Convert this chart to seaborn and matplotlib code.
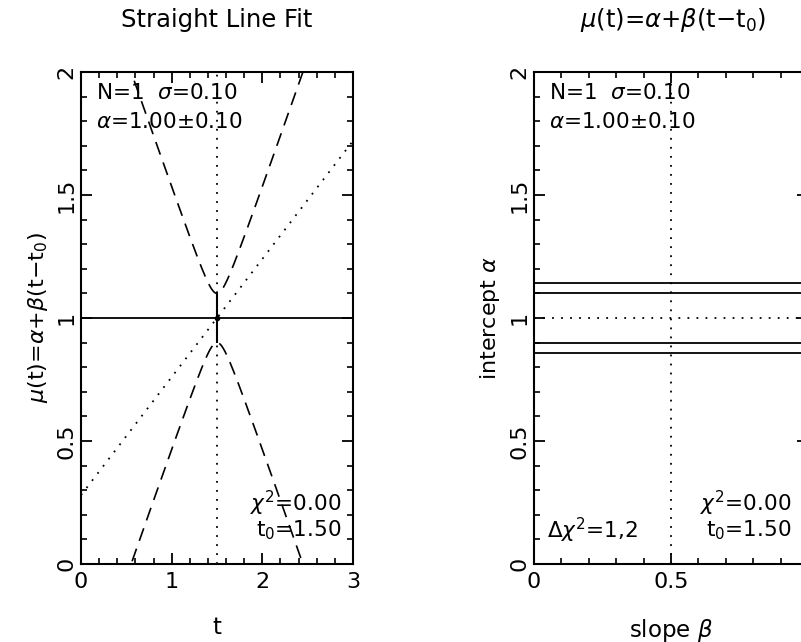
import numpy as np
import pandas as pd
import matplotlib
matplotlib.use("Agg")
import matplotlib.pyplot as plt
import seaborn as sns
from matplotlib.ticker import MultipleLocator

sns.set_style("ticks", {'text.color': 'black', 'xtick.color': 'black',
                        'ytick.color': 'black', 'axes.labelcolor': 'black'})
plt.rcParams['font.family'] = ['DejaVu Sans']
plt.rcParams['mathtext.fontset'] = 'dejavusans'

# 观测数据 (一个点)
t_obs = [1.5]
mu_obs = [1.0]
sig_obs = [0.1]

# 拟合结果
t0 = 1.5
alpha = 1.0
sig_alpha = 0.10
beta_band = 1.05      # 置信带的斜率
beta_dot = 0.48       # 虚点线的斜率
beta_mark = 0.5       # 右图竖直虚点线位置

# 右图 Δχ²=1,2 的等值线 (截距)
contour_levels = [0.859, 0.90, 1.10, 1.141]

W, H = 801, 642


def px(x, y):
    return x / W, 1 - y / H


# 置信带
t_grid = np.linspace(0, 3, 601)
band = np.sqrt(sig_alpha ** 2 + (beta_band * (t_grid - t0)) ** 2)
df_band = pd.DataFrame({'t': t_grid, 'up': alpha + band, 'lo': alpha - band,
                        'dot': alpha + beta_dot * (t_grid - t0)})

fig = plt.figure(figsize=(8.01, 6.42), dpi=100)
ax1 = fig.add_axes([81 / W, 78 / H, 272 / W, 492 / H])
ax2 = fig.add_axes([534 / W, 78 / H, 274 / W, 492 / H])

dots = (0, (1, 4))
dash = (0, (8, 5))

# 左图
sns.lineplot(data=df_band, x='t', y='up', ax=ax1, color='black', lw=1.2, linestyle=dash)
sns.lineplot(data=df_band, x='t', y='lo', ax=ax1, color='black', lw=1.2, linestyle=dash)
sns.lineplot(data=df_band, x='t', y='dot', ax=ax1, color='black', lw=1.3, linestyle=dots)
ax1.axhline(alpha, color='black', lw=1.3)
ax1.axvline(t0, color='black', lw=1.3, linestyle=dots)
ax1.errorbar(t_obs, mu_obs, yerr=sig_obs, fmt='o', color='black', ms=3, lw=1.5, capsize=0)
ax1.set_xlim(0, 3)
ax1.set_ylim(0, 2)
ax1.xaxis.set_major_locator(MultipleLocator(1))
ax1.xaxis.set_minor_locator(MultipleLocator(0.2))

# 右图
for lv in contour_levels:
    ax2.axhline(lv, color='black', lw=1.3)
ax2.axhline(alpha, color='black', lw=1.3, linestyle=dots)
ax2.axvline(beta_mark, color='black', lw=1.3, linestyle=dots)
ax2.set_xlim(0, 1)
ax2.set_ylim(0, 2)
ax2.xaxis.set_major_locator(MultipleLocator(0.5))
ax2.xaxis.set_minor_locator(MultipleLocator(0.1))
ax2.set_xticks([0, 0.5])
ax2.set_xticklabels(['0', '0.5'])

for ax in (ax1, ax2):
    ax.set_xlabel('')
    ax.set_ylabel('')
    ax.yaxis.set_major_locator(MultipleLocator(0.5))
    ax.yaxis.set_minor_locator(MultipleLocator(0.1))
    ax.tick_params(which='both', direction='in', top=True, right=True,
                   color='black', labelcolor='black')
    ax.tick_params(which='major', length=8, width=1.3, labelsize=16, pad=6)
    ax.tick_params(which='minor', length=4.5, width=1.2)
    ax.tick_params(axis='y', labelrotation=90, pad=3)
    for s in ax.spines.values():
        s.set_linewidth(1.5)
        s.set_color('black')
    ax.set_yticks([0, 0.5, 1, 1.5, 2])
    ax.set_yticklabels(['0', '0.5', '1', '1.5', '2'], va='center')

# 文字
fs = 15.5
fig.text(*px(217, 20), 'Straight Line Fit', ha='center', va='center', fontsize=17.5)
fig.text(*px(673, 20), r'$\mu$(t)=$\alpha$+$\beta$(t$-$t$_0$)', ha='center', va='center',
         fontsize=17.5)
fig.text(*px(217, 628), 't', ha='center', va='center', fontsize=16.5)
fig.text(*px(671, 630), r'slope $\beta$', ha='center', va='center', fontsize=16.5)
fig.text(*px(38, 318), r'$\mu$(t)=$\alpha$+$\beta$(t$-$t$_0$)', ha='center', va='center',
         rotation=90, fontsize=16)
fig.text(*px(490, 318), r'intercept $\alpha$', ha='center', va='center', rotation=90,
         fontsize=16)

for x0 in (96, 549):
    fig.text(*px(x0, 93), r'N=1  $\sigma$=0.10', ha='left', va='center', fontsize=fs)
    fig.text(*px(x0, 122), r'$\alpha$=1.00$\pm$0.10', ha='left', va='center', fontsize=fs)

for x1 in (341, 791):
    fig.text(*px(x1, 503), r'$\chi^2$=0.00', ha='right', va='center', fontsize=fs)
    fig.text(*px(x1, 530), r't$_0$=1.50', ha='right', va='center', fontsize=fs)
fig.text(*px(547, 530), r'$\Delta\chi^2$=1,2', ha='left', va='center', fontsize=fs)

fig.savefig('out.png', dpi=100)
